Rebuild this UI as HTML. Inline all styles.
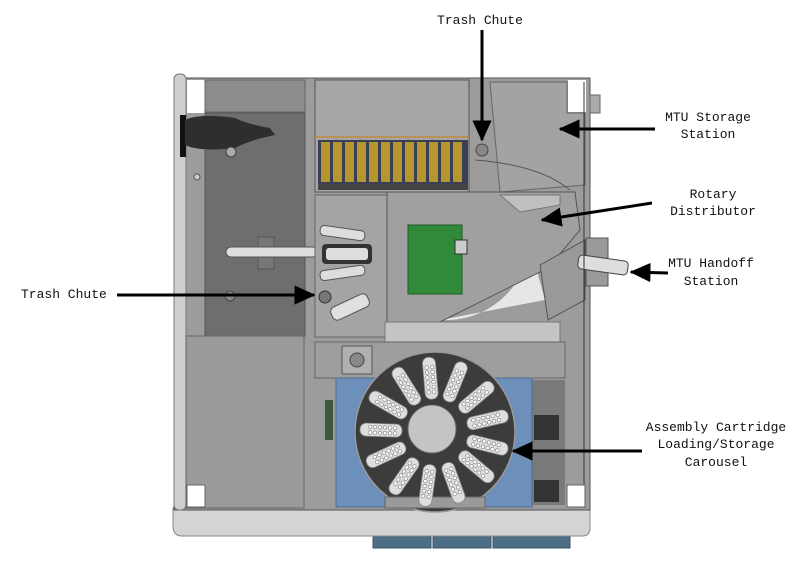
<!DOCTYPE html>
<html><head><meta charset="utf-8"><style>
html,body{margin:0;padding:0;background:#fff;}
svg{display:block;}
text{font-family:"Liberation Mono",monospace;font-size:13px;fill:#111;}
</style></head><body>
<svg width="801" height="563" viewBox="0 0 801 563" xmlns="http://www.w3.org/2000/svg">
<defs>
<marker id="ah" markerWidth="8" markerHeight="8" refX="6.5" refY="3.2" orient="auto" markerUnits="strokeWidth">
<path d="M0,0 L7,3.2 L0,6.4 z" fill="#000"/></marker>
<g id="tube"><rect x="-21" y="-6.5" width="42" height="13" rx="6" fill="#dedede" stroke="#888" stroke-width="0.8"/>
<g fill="#fff" stroke="#777" stroke-width="0.6">
<circle cx="-14" cy="-2.8" r="1.8"/><circle cx="-9" cy="-2.8" r="1.8"/><circle cx="-4" cy="-2.8" r="1.8"/><circle cx="1" cy="-2.8" r="1.8"/><circle cx="6" cy="-2.8" r="1.8"/><circle cx="11" cy="-2.8" r="1.8"/>
<circle cx="-14" cy="2.8" r="1.8"/><circle cx="-9" cy="2.8" r="1.8"/><circle cx="-4" cy="2.8" r="1.8"/><circle cx="1" cy="2.8" r="1.8"/><circle cx="6" cy="2.8" r="1.8"/><circle cx="11" cy="2.8" r="1.8"/></g></g>
</defs>

<rect x="373" y="530" width="58" height="18" fill="#4d6f86" stroke="#3a5668"/>
<rect x="433" y="530" width="58" height="18" fill="#4d6f86" stroke="#3a5668"/>
<rect x="493" y="530" width="77" height="18" fill="#4d6f86" stroke="#3a5668"/>
<path d="M173,508 H590 V528 Q590,536 582,536 H182 Q173,536 173,526 Z" fill="#d4d4d4" stroke="#888"/>

<rect x="174" y="78" width="416" height="432" fill="#9c9c9c" stroke="#555"/>
<rect x="174" y="74" width="12" height="436" rx="5" fill="#cfcfcf" stroke="#777"/>
<rect x="187" y="80" width="18" height="33" fill="#fff"/>
<rect x="568" y="80" width="18" height="32" fill="#fff"/>
<rect x="590" y="95" width="10" height="18" fill="#aaa" stroke="#666"/>
<rect x="205" y="80" width="100" height="32" fill="#8c8c8c" stroke="#666"/>
<rect x="205" y="113" width="100" height="223" fill="#6e6e6e" stroke="#555"/>
<rect x="180" y="115" width="6" height="42" fill="#111"/>
<path d="M185,120 Q200,113 235,118 Q250,125 270,128 L275,135 Q250,140 235,148 Q200,152 185,145 Z" fill="#2e2e2e"/>
<circle cx="231" cy="152" r="5" fill="#aaa" stroke="#444"/>
<circle cx="230" cy="296" r="5" fill="#888" stroke="#444"/>
<rect x="258" y="237" width="16" height="32" fill="#777" stroke="#555"/>
<rect x="226" y="247" width="92" height="10" rx="5" fill="#ddd" stroke="#555"/>
<rect x="186" y="336" width="118" height="172" fill="#9a9a9a" stroke="#666"/>
<circle cx="197" cy="177" r="3" fill="#ccc" stroke="#555"/>

<rect x="315" y="80" width="154" height="112" fill="#a6a6a6" stroke="#555"/>
<line x1="315" y1="137" x2="469" y2="137" stroke="#c08a3a" stroke-width="1.5"/>
<rect x="318" y="140" width="150" height="44" fill="#3b3f55"/>
<g fill="#b8962e">
<rect x="321" y="142" width="9" height="40"/><rect x="333" y="142" width="9" height="40"/><rect x="345" y="142" width="9" height="40"/><rect x="357" y="142" width="9" height="40"/><rect x="369" y="142" width="9" height="40"/><rect x="381" y="142" width="9" height="40"/><rect x="393" y="142" width="9" height="40"/><rect x="405" y="142" width="9" height="40"/><rect x="417" y="142" width="9" height="40"/><rect x="429" y="142" width="9" height="40"/><rect x="441" y="142" width="9" height="40"/><rect x="453" y="142" width="9" height="40"/></g>
<rect x="318" y="184" width="150" height="6" fill="#444"/>

<path d="M490,82 H567 V113 L585,113 V185 L500,192 Z" fill="#a3a3a3" stroke="#666"/>
<path d="M475,160 Q540,165 570,190" fill="none" stroke="#555"/>
<circle cx="482" cy="150" r="6" fill="#888" stroke="#444"/>

<rect x="315" y="195" width="72" height="142" fill="#a4a4a4" stroke="#666"/>
<rect x="322" y="244" width="50" height="20" rx="4" fill="#333"/>
<rect x="326" y="248" width="42" height="12" rx="3" fill="#ddd"/>
<rect x="320" y="228" width="45" height="10" rx="4" fill="#ddd" stroke="#555" transform="rotate(8 342 233)"/>
<rect x="320" y="268" width="45" height="10" rx="4" fill="#ddd" stroke="#555" transform="rotate(-8 342 273)"/>
<circle cx="325" cy="297" r="6" fill="#777" stroke="#333"/>
<rect x="330" y="300" width="40" height="14" rx="5" fill="#e0e0e0" stroke="#555" transform="rotate(-25 350 307)"/>

<path d="M440,320 A85,85 0 0 0 530,245 L545,300 Z" fill="#e6e6e6"/>
<path d="M387,192 H575 L580,230 L548,268 L440,322 L387,322 Z" fill="#a0a0a0" stroke="#555"/>
<path d="M500,195 L520,212 L560,205 L560,195 Z" fill="#bfbfbf" stroke="#777"/>
<path d="M540,265 L585,240 L585,300 L548,320 Z" fill="#999" stroke="#555"/>
<rect x="408" y="225" width="54" height="69" fill="#2f8a3a" stroke="#1f5a26"/>
<rect x="455" y="240" width="12" height="14" fill="#ccc" stroke="#333"/>
<rect x="385" y="322" width="175" height="20" fill="#c4c4c4" stroke="#777"/>

<rect x="586" y="238" width="22" height="48" fill="#9a9a9a" stroke="#555"/>
<rect x="578" y="258" width="50" height="14" rx="4" fill="#ddd" stroke="#444" transform="rotate(8 603 265)"/>
<line x1="584" y1="82" x2="584" y2="508" stroke="#333"/>

<rect x="315" y="342" width="250" height="36" fill="#9e9e9e" stroke="#666"/>
<rect x="342" y="346" width="30" height="28" fill="#b0b0b0" stroke="#555"/>
<circle cx="357" cy="360" r="7" fill="#888" stroke="#444"/>
<rect x="532" y="380" width="33" height="125" fill="#7a7a7a"/>
<rect x="534" y="415" width="25" height="25" fill="#333"/>
<rect x="534" y="480" width="25" height="22" fill="#333"/>
<rect x="325" y="400" width="8" height="40" fill="#3a5a3a"/>
<rect x="336" y="378" width="196" height="129" fill="#6d90bb" stroke="#4f6d92"/>
<circle cx="435" cy="432" r="80" fill="#3c3c3c" stroke="#999" stroke-width="1.5"/>
<rect x="385" y="497" width="100" height="11" fill="#9a9a9a" stroke="#666"/>
<g>
<use href="#tube" transform="translate(435,432) rotate(-95) translate(54,0)"/>
<use href="#tube" transform="translate(435,432) rotate(-68) translate(54,0)"/>
<use href="#tube" transform="translate(435,432) rotate(-40) translate(54,0)"/>
<use href="#tube" transform="translate(435,432) rotate(-13) translate(54,0)"/>
<use href="#tube" transform="translate(435,432) rotate(14) translate(54,0)"/>
<use href="#tube" transform="translate(435,432) rotate(40) translate(54,0)"/>
<use href="#tube" transform="translate(435,432) rotate(70) translate(54,0)"/>
<use href="#tube" transform="translate(435,432) rotate(98) translate(54,0)"/>
<use href="#tube" transform="translate(435,432) rotate(125) translate(54,0)"/>
<use href="#tube" transform="translate(435,432) rotate(155) translate(54,0)"/>
<use href="#tube" transform="translate(435,432) rotate(182) translate(54,0)"/>
<use href="#tube" transform="translate(435,432) rotate(-150) translate(54,0)"/>
<use href="#tube" transform="translate(435,432) rotate(-122) translate(54,0)"/>
</g>
<circle cx="432" cy="429" r="24" fill="#c4c4c4" stroke="#666"/>
<rect x="187" y="485" width="18" height="22" fill="#fff" stroke="#666"/>
<rect x="567" y="485" width="18" height="22" fill="#fff" stroke="#666"/>

<g stroke="#000" stroke-width="3" fill="none">
<line x1="482" y1="30" x2="482" y2="140" marker-end="url(#ah)"/>
<line x1="655" y1="129" x2="560" y2="129" marker-end="url(#ah)"/>
<line x1="652" y1="203" x2="542" y2="220" marker-end="url(#ah)"/>
<line x1="668" y1="273" x2="631" y2="272" marker-end="url(#ah)"/>
<line x1="117" y1="295" x2="314" y2="295" marker-end="url(#ah)"/>
<line x1="642" y1="451" x2="513" y2="451" marker-end="url(#ah)"/>
</g>

<text x="480" y="24" text-anchor="middle">Trash Chute</text>
<text x="708" y="121" text-anchor="middle">MTU Storage</text>
<text x="708" y="138" text-anchor="middle">Station</text>
<text x="713" y="198" text-anchor="middle">Rotary</text>
<text x="713" y="215" text-anchor="middle">Distributor</text>
<text x="711" y="267" text-anchor="middle">MTU Handoff</text>
<text x="711" y="285" text-anchor="middle">Station</text>
<text x="21" y="298">Trash Chute</text>
<text x="716" y="431" text-anchor="middle">Assembly Cartridge</text>
<text x="716" y="448" text-anchor="middle">Loading/Storage</text>
<text x="716" y="466" text-anchor="middle">Carousel</text>
</svg>
</body></html>
